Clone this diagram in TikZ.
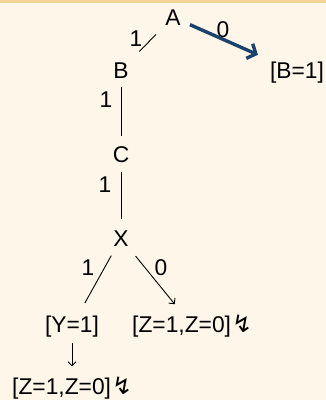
\documentclass[tikz,border=0pt]{standalone}
\usepackage{fontspec}
\setmainfont{Liberation Sans}
\newfontfamily\zapfont{DejaVu Sans}
\usetikzlibrary{arrows.meta}
\definecolor{bgc}{RGB}{254,246,232}
\definecolor{topc}{RGB}{243,212,148}
\definecolor{navy}{RGB}{26,66,110}
\newcommand{\zap}{\hspace{1pt}{\zapfont\fontsize{24}{24}\selectfont ↯}}
\begin{document}
\begin{tikzpicture}[x=1pt,y=-1pt,
  txt/.style={font=\fontsize{22.8}{27}\selectfont, inner sep=0pt, anchor=base},
  tree/.style={line width=0.9pt},
  tarrow/.style={line width=0.9pt, -{Straight Barb[length=4pt,width=8pt]}},
  bluearrow/.style={navy, line width=3.4pt, -{Straight Barb[length=7pt,width=16pt]}}
]
\useasboundingbox (0,0) rectangle (326,400);
\fill[bgc] (0,0) rectangle (326,400);
\fill[topc] (0,0) rectangle (326,3);

\node[txt] (A) at (173,25) {A};
\node[txt] (B) at (121,78) {B};
\node[txt] (BB) at (297,78) {[B=1]};
\node[txt] (C) at (121,162) {C};
\node[txt] (X) at (121,246) {X};
\node[txt] (Y) at (72,332) {[Y=1]};
\node[txt, anchor=base west] (Zr) at (132,332) {[Z=1,Z=0]\zap};
\node[txt, anchor=base west] (Zb) at (12,394) {[Z=1,Z=0]\zap};

\node[txt] (l1) at (136,46) {1};
\node[txt] (l2) at (223,37) {0};
\node[txt] (l3) at (106,107) {1};
\node[txt] (l4) at (105,192) {1};
\node[txt] (l5) at (88,275) {1};
\node[txt] (l6) at (161,275) {0};

\draw[tree, shorten <=15pt, shorten >=13pt] (B) -- (A);
\draw[bluearrow, shorten <=10pt, shorten >=16pt] (A) -- (BB);
\draw[tree, shorten <=9pt, shorten >=10pt] (B) -- (C);
\draw[tree, shorten <=10pt, shorten >=11pt] (C) -- (X);
\draw[tree, shorten <=10.7pt, shorten >=14pt] (X) -- (Y);
\draw[tarrow, shorten <=12.7pt, shorten >=13pt] (X) -- (Zr);
\draw[tarrow, shorten <=6pt, shorten >=10pt] (Y.south) -- (Y.south |- Zb.north);
\end{tikzpicture}
\end{document}
